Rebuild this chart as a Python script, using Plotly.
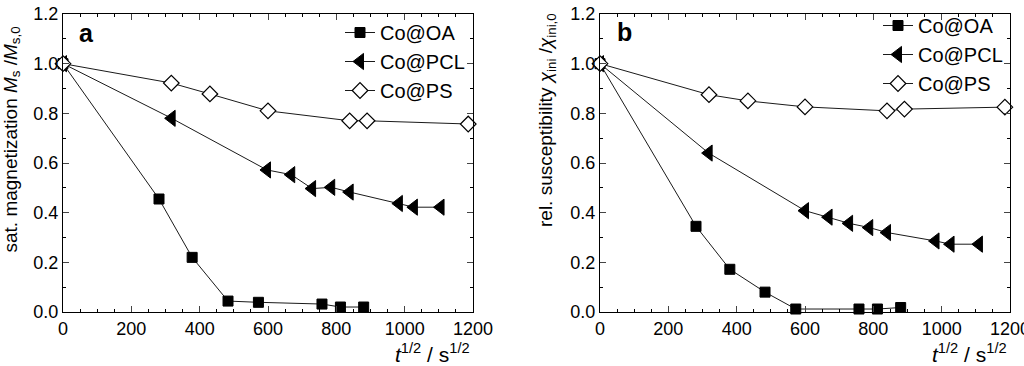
import plotly.graph_objects as go

# Panel a: saturation magnetization
a_oa_x = [0, 281, 378, 483, 572, 758, 812, 880]
a_oa_y = [1.0, 0.455, 0.22, 0.044, 0.039, 0.032, 0.02, 0.02]
a_pcl_x = [0, 318, 597, 668, 729, 785, 839, 983, 1027, 1105]
a_pcl_y = [1.0, 0.78, 0.572, 0.553, 0.497, 0.502, 0.483, 0.437, 0.422, 0.422]
a_ps_x = [0, 317, 430, 600, 839, 890, 1186]
a_ps_y = [1.0, 0.922, 0.878, 0.81, 0.77, 0.77, 0.757]

# Panel b: relative susceptibility
b_oa_x = [0, 281, 380, 483, 573, 758, 812, 880]
b_oa_y = [1.0, 0.345, 0.172, 0.08, 0.012, 0.012, 0.012, 0.018]
b_pcl_x = [0, 318, 600, 669, 729, 788, 840, 982, 1026, 1109]
b_pcl_y = [1.0, 0.64, 0.408, 0.382, 0.357, 0.34, 0.32, 0.286, 0.273, 0.273]
b_ps_x = [0, 319, 433, 600, 840, 891, 1185]
b_ps_y = [1.0, 0.875, 0.85, 0.826, 0.81, 0.817, 0.825]

names = ["Co@OA", "Co@PCL", "Co@PS"]
FONT = "Liberation Sans, Arial, sans-serif"
LC = "#1a1a1a"

styles = [
    dict(symbol="square", size=10, color="black", line=dict(color="black", width=1)),
    dict(symbol="triangle-left", size=14, color="black", line=dict(color="black", width=1)),
    dict(symbol="diamond", size=12, color="white", line=dict(color="black", width=1.2)),
]

fig = go.Figure()
panel_a = [(a_oa_x, a_oa_y), (a_pcl_x, a_pcl_y), (a_ps_x, a_ps_y)]
panel_b = [(b_oa_x, b_oa_y), (b_pcl_x, b_pcl_y), (b_ps_x, b_ps_y)]
for i, (x, y) in enumerate(panel_a):
    fig.add_trace(go.Scatter(x=x, y=y, mode="lines+markers", name=names[i],
                             line=dict(color=LC, width=1), marker=styles[i],
                             xaxis="x", yaxis="y", legend="legend", cliponaxis=False))
for i, (x, y) in enumerate(panel_b):
    fig.add_trace(go.Scatter(x=x, y=y, mode="lines+markers", name=names[i],
                             line=dict(color=LC, width=1), marker=styles[i],
                             xaxis="x2", yaxis="y2", legend="legend2", cliponaxis=False))

W, H = 1024, 366
def px_x(p): return p / W
def px_y(p): return 1 - p / H

xa = dict(range=[0, 1200], dtick=200, tick0=0, ticks="inside", ticklen=6, tickwidth=1,
          showline=True, linecolor="black", linewidth=1, mirror="ticks", showgrid=False,
          zeroline=False, automargin=False, ticklabeloverflow="allow",
          tickfont=dict(family=FONT, size=18, color="black"),
          minor=dict(dtick=50, ticks="inside", ticklen=3, tickcolor="black", showgrid=False))
ya = dict(range=[0, 1.2], dtick=0.2, tick0=0, ticks="inside", ticklen=6, tickwidth=1,
          tickformat=".1f", showline=True, linecolor="black", linewidth=1, mirror="ticks",
          showgrid=False, zeroline=False, automargin=False, ticklabeloverflow="allow",
          tickfont=dict(family=FONT, size=18, color="black"),
          minor=dict(dtick=0.1, ticks="inside", ticklen=3, tickcolor="black", showgrid=False))

ydom = [px_y(312), px_y(14)]
fig.update_layout(
    width=W, height=H, margin=dict(l=0, r=0, t=0, b=0, autoexpand=False),
    paper_bgcolor="white", plot_bgcolor="white",
    font=dict(family=FONT, size=18, color="black"),
    xaxis=dict(xa, domain=[px_x(63), px_x(473)], anchor="y"),
    yaxis=dict(ya, domain=ydom, anchor="x"),
    xaxis2=dict(xa, domain=[px_x(600), px_x(1010)], anchor="y2"),
    yaxis2=dict(ya, domain=ydom, anchor="x2"),
    legend=dict(x=px_x(470), y=px_y(13), xanchor="right", yanchor="top",
                bgcolor="rgba(0,0,0,0)", font=dict(family=FONT, size=20),
                tracegroupgap=0, itemsizing="trace", itemwidth=30),
    legend2=dict(x=px_x(1008), y=px_y(6), xanchor="right", yanchor="top",
                 bgcolor="rgba(0,0,0,0)", font=dict(family=FONT, size=20),
                 tracegroupgap=0, itemsizing="trace", itemwidth=30),
    showlegend=True,
)

ann = [
    dict(text="<b>a</b>", x=px_x(77), y=px_y(33), xanchor="left", yanchor="middle", font=dict(size=25)),
    dict(text="<b>b</b>", x=px_x(615), y=px_y(32), xanchor="left", yanchor="middle", font=dict(size=25)),
    dict(text="sat. magnetization <i>M</i><sub>s</sub> /<i>M</i><sub>s,0</sub>", x=px_x(11.5), y=px_y(140),
         textangle=-90, xanchor="center", yanchor="middle", font=dict(size=19)),
    dict(text="rel. susceptibility <i>χ</i><sub>ini</sub> /<i>χ</i><sub>ini,0</sub>", x=px_x(547), y=px_y(120),
         textangle=-90, xanchor="center", yanchor="middle", font=dict(size=19)),
    dict(text="<i>t</i><sup>1/2</sup> / s<sup>1/2</sup>", x=px_x(472), y=px_y(353), xanchor="right",
         yanchor="middle", font=dict(size=21)),
    dict(text="<i>t</i><sup>1/2</sup> / s<sup>1/2</sup>", x=px_x(1009), y=px_y(353), xanchor="right",
         yanchor="middle", font=dict(size=21)),
]
for a in ann:
    a.update(xref="paper", yref="paper", showarrow=False)
    a.setdefault("font", {})
    a["font"].update(family=FONT, color="black")
fig.update_layout(annotations=ann)

fig.write_html("out.html", config={"displayModeBar": False},
               post_script="document.body.style.margin='0';document.body.style.overflow='hidden';")
